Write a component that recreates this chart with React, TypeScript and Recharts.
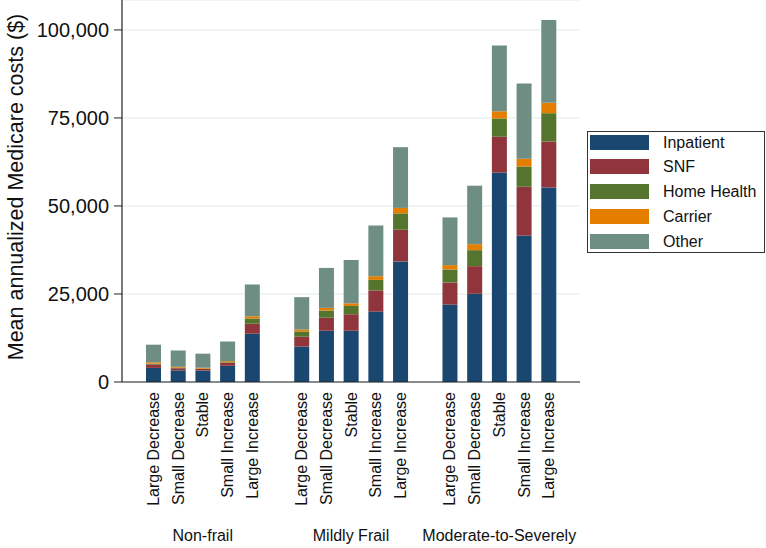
import { BarChart, Bar, XAxis, YAxis, CartesianGrid, Label } from "recharts";

const categories = ["Large Decrease", "Small Decrease", "Stable", "Small Increase", "Large Increase"];
const groups = ["Non-frail", "Mildly Frail", "Moderate-to-Severely"];

// values per bar, group by group (5 bars each)
const inpatient = [4000, 3300, 3250, 4600, 13700, 10100, 14550, 14550, 20000, 34250, 22000, 25050, 59500, 41600, 55250];
const snf = [950, 600, 450, 800, 2850, 2750, 3700, 4700, 6000, 9000, 6250, 7850, 10150, 13850, 13050];
const homeHealth = [250, 150, 100, 200, 1500, 1500, 2050, 2350, 3000, 4650, 3700, 4550, 5200, 5750, 8050];
const carrier = [400, 250, 250, 300, 650, 550, 750, 750, 1050, 1550, 1250, 1700, 2050, 2200, 2950];
const other = [5000, 4650, 4000, 5600, 9000, 9200, 11350, 12300, 14400, 17250, 13550, 16600, 18700, 21400, 23500];

const yTicks = [0, 25000, 50000, 75000, 100000];

const series = [
  { key: "inpatient", name: "Inpatient", color: "#1a476f" },
  { key: "snf", name: "SNF", color: "#90353b" },
  { key: "homeHealth", name: "Home Health", color: "#55752f" },
  { key: "carrier", name: "Carrier", color: "#e37e00" },
  { key: "other", name: "Other", color: "#6e8e84" },
];

const FONT = "'Liberation Sans', Arial, sans-serif";

type Row = { key: string; label: string; group: string; [k: string]: any };

const rows: Row[] = [];
groups.forEach((g, gi) => {
  if (gi > 0) rows.push({ key: `gap${gi}`, label: "", group: "" });
  categories.forEach((c, ci) => {
    const i = gi * categories.length + ci;
    rows.push({
      key: `${gi}-${ci}`,
      label: c,
      group: ci === 2 ? g : "",
      inpatient: inpatient[i],
      snf: snf[i],
      homeHealth: homeHealth[i],
      carrier: carrier[i],
      other: other[i],
    });
  });
});
const rowByKey: Record<string, Row> = {};
rows.forEach((r) => (rowByKey[r.key] = r));

function XTick(props: any) {
  const { x, y, payload } = props;
  const row = rowByKey[payload.value];
  if (!row || !row.label) return null;
  return (
    <g>
      <text
        transform={`translate(${x},${y + 10}) rotate(-90)`}
        textAnchor="end"
        dy="0.35em"
        fontSize={16}
        fontFamily={FONT}
        fill="#111"
      >
        {row.label}
      </text>
      {row.group && (
        <text x={x} y={y + 159} textAnchor="middle" fontSize={16} fontFamily={FONT} fill="#111">
          {row.group}
        </text>
      )}
    </g>
  );
}

export default function App() {
  return (
    <div style={{ position: "absolute", left: 0, top: 0, width: 766, height: 548, background: "#fff" }}>
      <BarChart width={766} height={548} data={rows} margin={{ top: 0, right: 186, left: 0, bottom: 0 }}>
        <CartesianGrid horizontal vertical={false} stroke="#eaf2f3" strokeWidth={1.5} />
        <XAxis
          dataKey="key"
          type="category"
          height={166}
          padding={{ left: 19, right: 19 }}
          tickLine={false}
          tickSize={0}
          tickMargin={0}
          interval={0}
          axisLine={{ stroke: "#222", strokeWidth: 1.2 }}
          tick={<XTick />}
        />
        <YAxis
          width={122}
          domain={[0, 108500]}
          ticks={yTicks}
          allowDataOverflow
          tickSize={8}
          tickMargin={5}
          tickLine={{ stroke: "#222" }}
          axisLine={{ stroke: "#222", strokeWidth: 1.2 }}
          tick={{ fontSize: 20, fontFamily: FONT, fill: "#111" }}
          tickFormatter={(v: number) => v.toLocaleString("en-US")}
        >
          <Label
            content={() => (
              <text
                transform="translate(15,187) rotate(-90)"
                textAnchor="middle"
                dy="0.35em"
                fontSize={21.5}
                fontFamily={FONT}
                fill="#111"
              >
                Mean annualized Medicare costs ($)
              </text>
            )}
          />
        </YAxis>
        {series.map((s) => (
          <Bar key={s.key} dataKey={s.key} name={s.name} stackId="a" fill={s.color} barSize={15} isAnimationActive={false} />
        ))}
      </BarChart>
      <div
        style={{
          position: "absolute",
          left: 587,
          top: 131,
          width: 176,
          height: 120,
          border: "1px solid #333",
          background: "#fff",
          fontFamily: FONT,
          fontSize: 16,
          color: "#111",
        }}
      >
        {series.map((s, i) => (
          <div key={s.key} style={{ position: "absolute", left: 2, top: 2.5 + i * 24.75, height: 15, display: "flex", alignItems: "center" }}>
            <div style={{ width: 59, height: 15, background: s.color }} />
            <span style={{ marginLeft: 14, whiteSpace: "nowrap", lineHeight: "15px" }}>{s.name}</span>
          </div>
        ))}
      </div>
    </div>
  );
}
